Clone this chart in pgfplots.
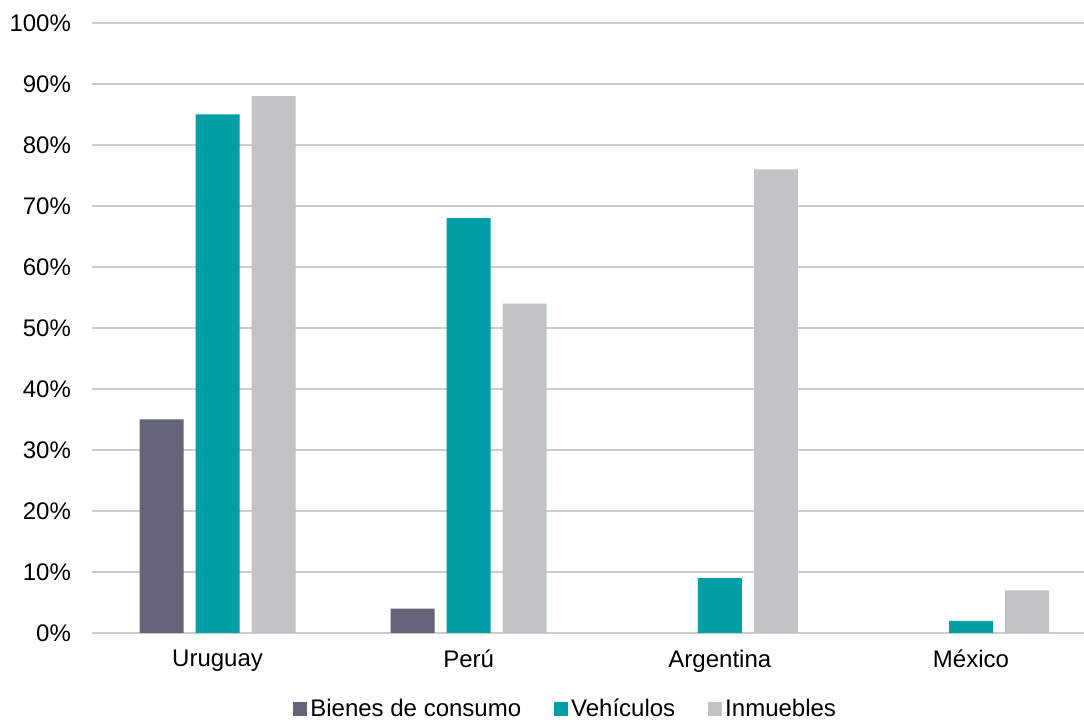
\documentclass[border=0pt]{standalone}
\usepackage{pgfplots}
\pgfplotsset{compat=1.18}
\usepackage{fontspec}
\setmainfont{Liberation Sans}
\definecolor{cA}{RGB}{100,100,120}
\definecolor{cB}{RGB}{0,159,166}
\definecolor{cC}{RGB}{192,196,198}
\definecolor{gridc}{RGB}{204,204,204}
\begin{document}
\begin{tikzpicture}[font=\fontsize{12}{14.4}\selectfont]
\begin{axis}[
  name=ax,
  scale only axis,
  width=496pt, height=305pt,
  ymin=0, ymax=100,
  xmin=-0.5, xmax=3.45,
  ytick={0,10,...,100},
  xtick={0,1,2,3},
  xticklabels={Uruguay,Perú,Argentina,México},
  /pgf/number format/assume math mode=true,
  yticklabel={\pgfmathprintnumber{\tick}\%},
  yticklabel style={xshift=-7pt},
  xticklabel style={yshift=-5pt},
  ymajorgrids,
  grid style={line width=0.75pt, color=gridc},
  axis line style={draw=none},
  major tick length=0pt,
  ybar,
  bar width=22pt,
  legend columns=3,
  legend style={at={(0.478,-0.1245)}, anchor=center, draw=none,
    nodes={inner sep=1.5pt},
    /tikz/every even column/.append style={column sep=15pt}},
]
\addplot[fill=cA, draw=none, bar shift=-28pt,
  legend image code/.code={\fill[cA] (0pt,-3.5pt) rectangle (7pt,3.5pt);}]
  coordinates {(0,35) (1,4)};
\addplot[fill=cB, draw=none, bar shift=0pt,
  legend image code/.code={\fill[cB] (0pt,-3.5pt) rectangle (7pt,3.5pt);}]
  coordinates {(0,85) (1,68) (2,9) (3,2)};
\addplot[fill=cC, draw=none, bar shift=28pt,
  legend image code/.code={\fill[cC] (0pt,-3.5pt) rectangle (7pt,3.5pt);}]
  coordinates {(0,88) (1,54) (2,76) (3,7)};
\legend{Bienes de consumo, Vehículos, Inmuebles}
\end{axis}
\pgfresetboundingbox
\path ([xshift=-46pt,yshift=-43.5pt]ax.south west) rectangle ([yshift=11.5pt]ax.north east);
\end{tikzpicture}
\end{document}
